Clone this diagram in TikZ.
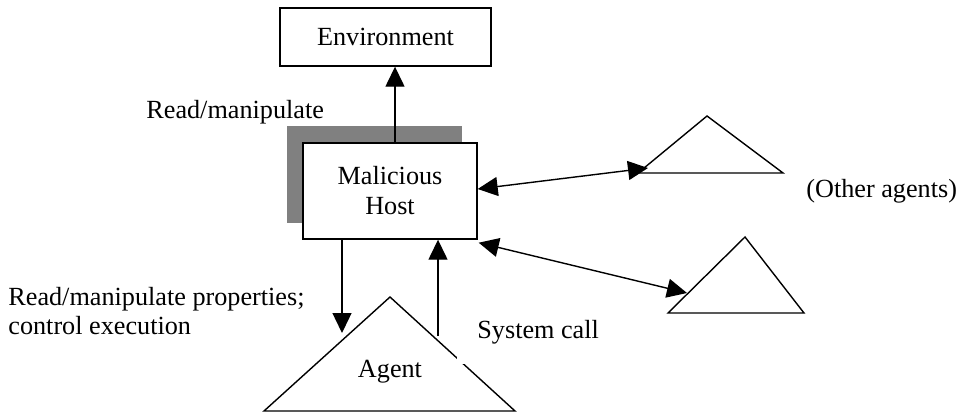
\documentclass[tikz,border=0pt]{standalone}
\usepackage{fontspec}
\setmainfont{Liberation Serif}
\usetikzlibrary{positioning, arrows.meta, calc}
\definecolor{shadowGray}{RGB}{128,128,128}

\begin{document}
\begin{tikzpicture}[
  x=0.5pt, y=-0.5pt,
  box/.style={draw, line width=0.7pt, fill=white, inner sep=0pt,
    align=center, font=\fontsize{13.1}{15}\selectfont},
  lbl/.style={font=\fontsize{13.1}{14.2}\selectfont, anchor=west, align=left, inner sep=0pt},
  link/.style={line width=0.7pt, -{Triangle[length=10pt, width=9.5pt]}},
  both/.style={line width=0.7pt, {Triangle[length=10pt, width=9.5pt]}-{Triangle[length=10pt, width=9.5pt]}},
  tri/.style={line width=0.7pt, line join=miter},
]
  \useasboundingbox (0,0) rectangle (958,412);

  % boxes
  \fill[shadowGray] (287,126) rectangle (462,223);
  \node[box, minimum width=105.5pt, minimum height=29pt] (env) at (385.5,37) {Environment};
  \node[box, minimum width=87pt, minimum height=48pt] (host) at (390,191) {Malicious\\Host};

  % agents
  \coordinate (agTop) at (390,297);
  \draw[tri] (agTop) -- (264,411) -- (515,411) -- cycle;
  \node[lbl, anchor=center] (agent) at (390,372) {Agent};
  \coordinate (otherA) at (707,116);
  \draw[tri] (otherA) -- (638,173) -- (783,173) -- cycle;
  \coordinate (otherB) at (745,237);
  \draw[tri] (otherB) -- (668,313) -- (804,313) -- cycle;

  % end points on the agents
  \coordinate (agIn) at (342,333);
  \coordinate (agOut) at (438,336);
  \coordinate (otherAIn) at (648,168);
  \coordinate (otherBIn) at (687,293);

  % connectors
  \draw[link] ([xshift=2.5pt]host.north) -- ([xshift=2.5pt]host.north |- env.south);
  \draw[link] ([xshift=-24pt]host.south) -- (agIn);
  \draw[link] (agOut) -- ([xshift=24pt]host.south);
  \draw[both] ([yshift=1pt]host.east) -- (otherAIn);
  \draw[both] ([xshift=0.5pt, yshift=-1.5pt]host.south east) -- (otherBIn);

  % labels
  \node[lbl] (readEnv) at (146,112) {Read/manipulate};
  \node[lbl] (readAgent) at (8,311) {Read/manipulate properties;\\control execution};
  \node[lbl, fill=white, inner sep=10pt] (sysCall) at (457,332) {System call};
  \node[lbl] (others) at (806,191) {(Other agents)};
\end{tikzpicture}
\end{document}
